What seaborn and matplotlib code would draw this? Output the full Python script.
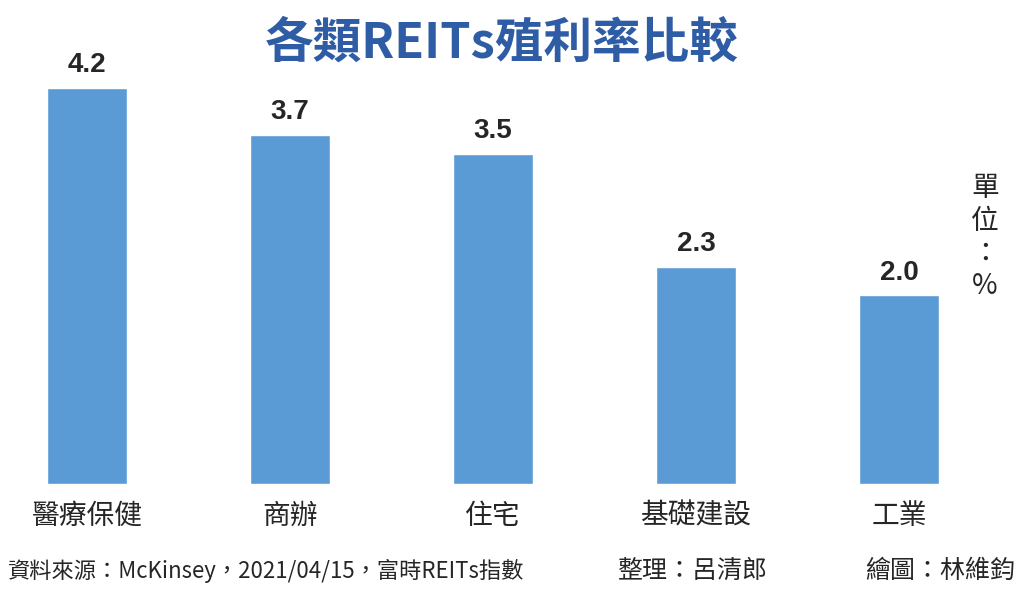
import pandas as pd
import seaborn as sns
import matplotlib.pyplot as plt

# data
categories = ['醫療保健', '商辦', '住宅', '基礎建設', '工業']
yields = [4.2, 3.7, 3.5, 2.3, 2.0]

bar_color = '#5B9BD5'
title_color = '#2E5DA6'

sns.set_style('white')
plt.rcParams['font.family'] = ['Noto Sans CJK TC', 'DejaVu Sans']

df = pd.DataFrame({'type': categories, 'yield': yields})

fig = plt.figure(figsize=(10.24, 5.93), dpi=100)
ax = fig.add_axes([0, 0.1838, 1, 0.795])

sns.barplot(data=df, x='type', y='yield', color=bar_color, saturation=1,
            width=0.395, ax=ax)

ax.set_xlim(-0.4286, 4.616)
ax.set_ylim(0, 5)
ax.set_xlabel('')
ax.set_ylabel('')
ax.set_yticks([])
ax.tick_params(axis='x', length=0, pad=12, labelsize=20)
sns.despine(ax=ax, left=True, bottom=True)

# value labels above each bar
ax.bar_label(ax.containers[0], fmt='%.1f', padding=7, fontsize=20,
             fontweight='bold', family='Liberation Sans')

fig.text(0.49, 0.927, '各類REITs殖利率比較', ha='center', va='center',
         fontsize=35, fontweight='bold', color=title_color)

# unit label, stacked vertically
fig.text(0.962, 0.600, '單\n位\n：\n%', ha='center', va='center',
         fontsize=20, linespacing=1.12)

# footer
fig.text(0.008, 0.037, '資料來源：McKinsey，2021/04/15，富時REITs指數',
         ha='left', va='center', fontsize=16)
fig.text(0.603, 0.037, '整理：呂清郎', ha='left', va='center', fontsize=18)
fig.text(0.845, 0.037, '繪圖：林維鈞', ha='left', va='center', fontsize=18)

fig.savefig('out.png', dpi=100, facecolor='white')
